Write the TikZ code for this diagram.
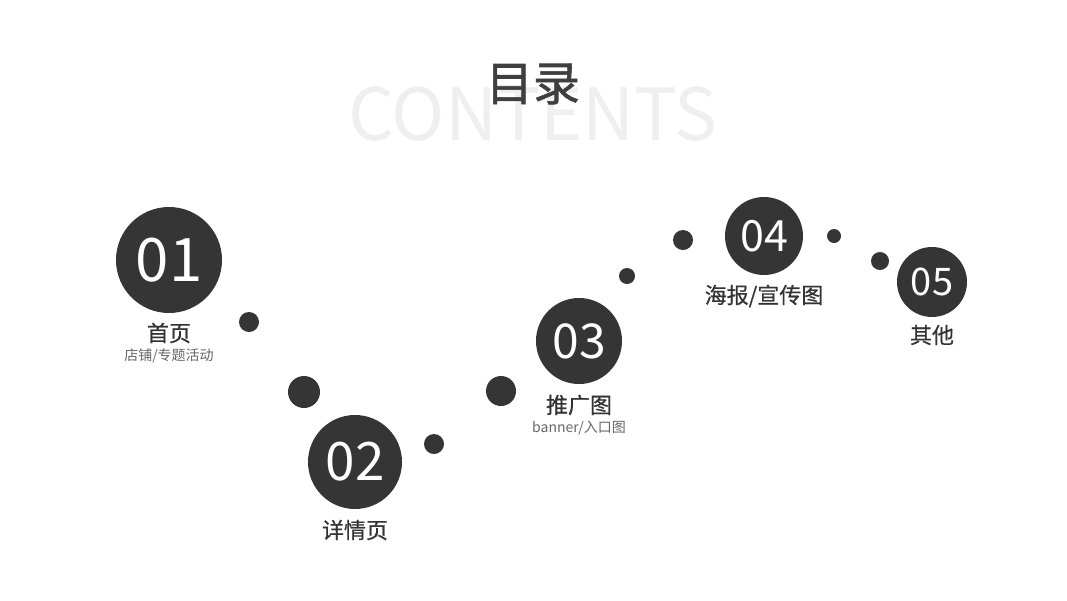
\documentclass[tikz,border=0pt]{standalone}
\usepackage{fontspec}
\setmainfont{Noto Sans CJK SC}
\newfontfamily\semifont[FakeBold=0.6]{Noto Sans CJK SC}
\newfontfamily\titlefont[FakeBold=1.2]{Noto Sans CJK SC}
\usepackage{tikz}
\usetikzlibrary{positioning}
\usepackage{xcolor}
\definecolor{darkdot}{HTML}{353535}
\definecolor{labelgray}{HTML}{333333}
\definecolor{titlegray}{HTML}{3F3F3F}
\definecolor{subgray}{HTML}{666666}
\definecolor{ghost}{HTML}{EFEFEF}

\tikzset{
  bigdot/.style={circle, fill=darkdot, text=white, inner sep=0pt},
  smalldot/.style={circle, fill=darkdot, inner sep=0pt},
  mainlabel/.style={text=labelgray, font=\semifont\fontsize{22}{24}\selectfont, inner sep=0pt},
  sublabel/.style={text=subgray, font=\fontsize{14}{16}\selectfont, inner sep=0pt}
}

\begin{document}
\begin{tikzpicture}[x=1pt,y=-1pt]
\useasboundingbox (0,0) rectangle (1067,600);

% title
\node[text=ghost, font=\fontsize{72}{72}\selectfont, inner sep=0pt] (ghosttitle) at (533,114) {CONTENTS};
\node[text=titlegray, font=\titlefont\fontsize{47}{50}\selectfont, inner sep=0pt] (title) at (533,84) {目录};

% numbered circles
\node[bigdot, minimum size=106pt, font=\fontsize{60}{60}\selectfont] (one) at (169,260) {01};
\node[bigdot, minimum size=94pt, font=\fontsize{53}{53}\selectfont] (two) at (355,462) {02};
\node[bigdot, minimum size=86pt, font=\fontsize{48}{48}\selectfont] (three) at (579,341) {03};
\node[bigdot, minimum size=78pt, font=\fontsize{43}{43}\selectfont] (four) at (764,236) {04};
\node[bigdot, minimum size=70pt, font=\fontsize{38}{38}\selectfont] (five) at (932,282) {05};

% small dots
\node[smalldot, minimum size=20pt] (dota) at (249,322) {};
\node[smalldot, minimum size=32pt] (dotb) at (304,392) {};
\node[smalldot, minimum size=20pt] (dotc) at (434,444) {};
\node[smalldot, minimum size=30pt] (dotd) at (501,391) {};
\node[smalldot, minimum size=16pt] (dote) at (627,276) {};
\node[smalldot, minimum size=20pt] (dotf) at (683,240) {};
\node[smalldot, minimum size=14pt] (dotg) at (834,236) {};
\node[smalldot, minimum size=18pt] (doth) at (880,261) {};

% labels
\node[mainlabel] (onelab) at (169,333) {首页};
\node[sublabel] (onesub) at (169,356) {店铺/专题活动};
\node[mainlabel] (twolab) at (355,530) {详情页};
\node[mainlabel] (threelab) at (579,405) {推广图};
\node[sublabel] (threesub) at (579,428) {banner/入口图};
\node[mainlabel] (fourlab) at (764,296) {海报/宣传图};
\node[mainlabel] (fivelab) at (932,335) {其他};
\end{tikzpicture}
\end{document}
